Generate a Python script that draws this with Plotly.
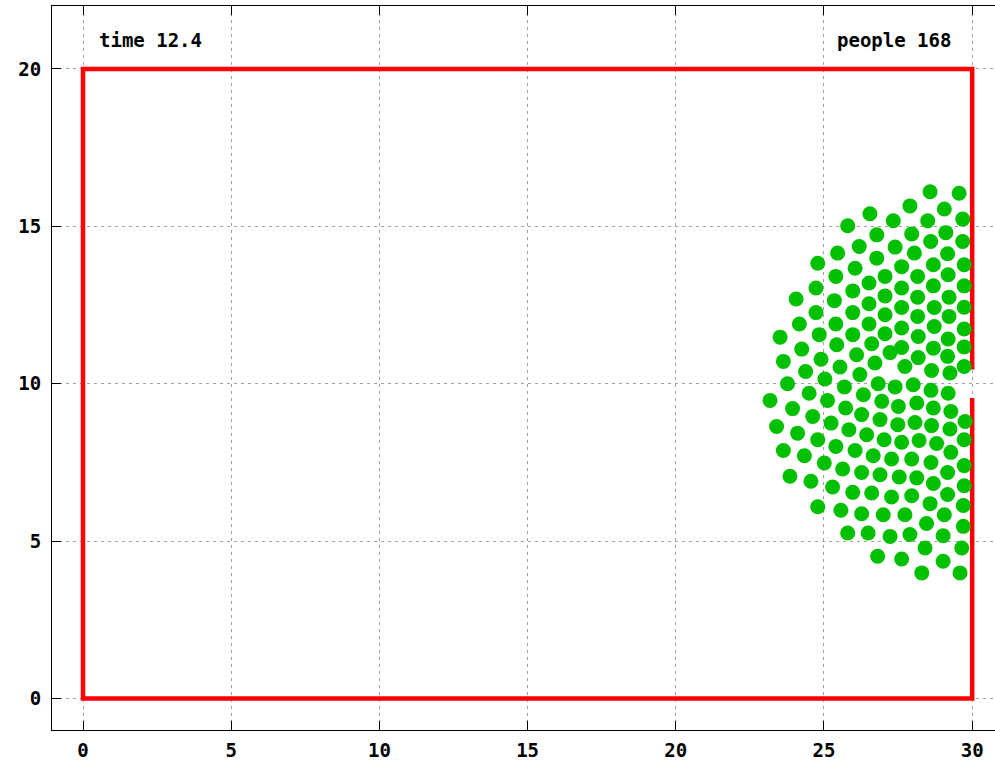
import plotly.graph_objects as go

# ---- data ----
time_value = 12.4

people_x = [
    28.58, 29.56, 27.90, 29.06, 26.55, 27.34, 28.50, 29.68, 25.80, 26.78,
    27.96, 29.11, 29.68, 26.19, 27.40, 28.60, 25.46, 26.78, 28.05, 29.17,
    29.73, 24.79, 26.05, 27.62, 28.69, 25.40, 27.06, 28.16, 29.19, 24.73,
    26.52, 27.62, 28.69, 29.73, 25.97, 24.06, 25.35, 27.06, 28.16, 29.22,
    26.52, 27.62, 28.72, 29.73, 24.73, 25.97, 27.06, 28.16, 29.22, 24.17,
    25.40, 26.52, 27.62, 28.72, 29.73, 23.52, 24.84, 25.97, 27.06, 28.18,
    29.19, 24.25, 25.43, 26.61, 27.62, 29.73, 23.63, 24.90, 26.10, 27.23,
    28.69, 29.17, 24.38, 25.54, 26.72, 27.73, 29.73, 28.63, 29.25, 25.03,
    26.21, 28.18, 23.77,
    25.69, 26.83, 27.40, 28.01, 28.61, 29.19, 23.18, 24.50, 25.12, 26.33,
    26.95, 27.51, 28.13, 28.69, 29.28, 23.94, 25.73, 26.27, 24.62, 25.24,
    26.89, 27.49, 28.07, 28.63, 29.25, 29.76, 23.40, 25.84, 24.11, 26.44,
    27.03, 27.62, 28.21, 28.80, 29.73, 24.79, 25.40, 23.63, 26.05, 26.66,
    27.28, 27.96, 28.61, 29.28, 24.34, 25.01, 29.73, 25.63, 26.27, 26.89,
    27.54, 28.13, 29.17, 23.85, 24.56, 28.69, 29.73, 25.29, 25.97, 26.61,
    27.28, 27.96, 29.17, 28.58, 29.70, 24.79, 25.57, 26.27, 27.00, 27.73,
    29.06, 28.46, 29.70, 25.80, 26.49, 27.23, 27.90, 29.02, 28.41, 29.65,
    26.81, 27.62, 29.02, 28.30, 29.59,
]

people_y = [
    16.10, 16.05, 15.65, 15.55, 15.40, 15.18, 15.18, 15.23, 15.02, 14.73,
    14.76, 14.80, 14.52, 14.36, 14.34, 14.52, 14.15, 13.99, 14.15, 14.13,
    13.78, 13.83, 13.67, 13.72, 13.78, 13.41, 13.41, 13.41, 13.46, 13.04,
    13.20, 13.04, 13.11, 13.11, 12.95, 12.69, 12.64, 12.79, 12.75, 12.75,
    12.54, 12.42, 12.42, 12.43, 12.26, 12.26, 12.19, 12.14, 12.14, 11.90,
    11.90, 11.90, 11.77, 11.82, 11.74, 11.48, 11.56, 11.56, 11.59, 11.50,
    11.42, 11.10, 11.24, 11.27, 11.15, 11.17, 10.71, 10.78, 10.92, 10.99,
    11.13, 10.87, 10.39, 10.53, 10.66, 10.55, 10.55, 10.42, 10.34, 10.15,
    10.29, 10.83, 10.00,
    9.90, 10.00, 9.90, 9.97, 9.79, 9.70, 9.47, 9.70, 9.47, 9.65,
    9.44, 9.28, 9.39, 9.23, 9.12, 9.21, 9.23, 9.02, 8.96, 8.75,
    8.86, 8.70, 8.77, 8.67, 8.56, 8.80, 8.64, 8.54, 8.43, 8.38,
    8.22, 8.14, 8.20, 8.10, 8.22, 8.22, 8.01, 7.88, 7.88, 7.71,
    7.61, 7.61, 7.50, 7.82, 7.71, 7.48, 7.40, 7.29, 7.18, 7.11,
    7.04, 7.01, 7.18, 7.06, 6.90, 6.83, 6.76, 6.72, 6.55, 6.53,
    6.40, 6.44, 6.48, 6.19, 6.13, 6.09, 5.98, 5.87, 5.84, 5.84,
    5.84, 5.56, 5.47, 5.26, 5.26, 5.15, 5.21, 5.17, 4.78, 4.78,
    4.52, 4.43, 4.36, 3.99, 3.99,
]

# room walls (door gap on the right wall)
wall_x = [30, 30, 0, 0, 30, 30]
wall_y = [10.45, 20, 20, 0, 0, 9.55]

x_ticks = [0, 5, 10, 15, 20, 25, 30]
y_ticks = [0, 5, 10, 15, 20]

FONT = "DejaVu Sans Mono"
FSIZE = 19

fig = go.Figure()

fig.add_trace(go.Scatter(
    x=wall_x, y=wall_y, mode="lines",
    line=dict(color="#ff0000", width=4.5),
    hoverinfo="skip", showlegend=False,
))

fig.add_trace(go.Scatter(
    x=people_x, y=people_y, mode="markers",
    marker=dict(color="#00c000", size=15, symbol="circle", line=dict(width=0)),
    showlegend=False,
))

fig.add_annotation(
    x=0.47, y=20.92, xref="x", yref="y",
    text=f"time {time_value}", showarrow=False,
    xanchor="left", yanchor="middle",
    font=dict(family=FONT, size=FSIZE, color="black", weight="bold"),
)
fig.add_annotation(
    x=29.35, y=20.92, xref="x", yref="y",
    text=f"people {len(people_x)}", showarrow=False,
    xanchor="right", yanchor="middle",
    font=dict(family=FONT, size=FSIZE, color="black", weight="bold"),
)

axis_common = dict(
    showgrid=True, gridcolor="#a0a0a0", gridwidth=1, griddash="3px,4px",
    zeroline=False, showline=True, linecolor="black", linewidth=1,
    ticks="inside", ticklen=9, tickcolor="black", tickwidth=1,
    automargin=False,
    tickfont=dict(family=FONT, size=FSIZE, color="black", weight="bold"),
)

fig.update_xaxes(
    range=[-1.046, 30.77], tickvals=x_ticks, ticktext=[str(v) for v in x_ticks],
    mirror="ticks", ticklabelstandoff=3, **axis_common,
)
fig.update_yaxes(
    range=[-1, 22], tickvals=y_ticks, ticktext=[str(v) for v in y_ticks],
    mirror=False, ticklabelstandoff=6, **axis_common,
)

fig.update_layout(
    width=995, height=763,
    margin=dict(l=52, r=0, t=6, b=33),
    plot_bgcolor="white", paper_bgcolor="white",
    showlegend=False,
)

fig.write_html("out.html")
